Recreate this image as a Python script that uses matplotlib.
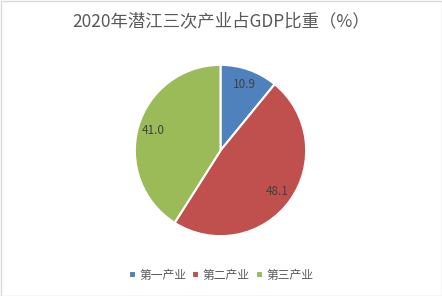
import matplotlib
matplotlib.use("Agg")
import matplotlib.pyplot as plt
from matplotlib.patches import Rectangle

plt.rcParams["font.family"] = ["Noto Sans CJK SC", "DejaVu Sans"]

# data
CATEGORIES = ["第一产业", "第二产业", "第三产业"]
SHARES = [10.9, 48.1, 41.0]
COLORS = ["#4F81BD", "#C0504D", "#9BBB59"]
TITLE = "2020年潜江三次产业占GDP比重（%）"
TEXT = "#595959"

fig = plt.figure(figsize=(4.42, 2.96), dpi=100)
W, H = 442, 296
# pie axes: center (220.5, 150.5), radius ~86.5 px
r = 86.5
ax = fig.add_axes([(220.5 - r) / W, 1 - (150.5 + r) / H, 2 * r / W, 2 * r / H])
wedges, texts = ax.pie(
    SHARES, colors=COLORS, startangle=90, counterclock=False,
    labels=[f"{v:.1f}" for v in SHARES], labeldistance=0.82,
    wedgeprops=dict(edgecolor="white", linewidth=1.5),
    textprops=dict(color="#404040", fontsize=8.5),
)
for t in texts:
    t.set_ha("center")
    t.set_va("center")
ax.set_xlim(-1.01, 1.01)
ax.set_ylim(-1.01, 1.01)
ax.set_aspect("equal")

fig.text(0.5, 1 - 21 / H, TITLE, ha="center", va="center", fontsize=12.5, color=TEXT)

fig.legend(wedges, CATEGORIES, loc="center", bbox_to_anchor=(0.5, 1 - 275 / H),
           ncol=3, frameon=False, fontsize=8.5, labelcolor=TEXT,
           handlelength=0.6, handleheight=0.6, handletextpad=0.3, columnspacing=0.5)

fig.patches.append(Rectangle((0.5 / W, 0.5 / H), 1 - 1 / W, 1 - 1 / H,
                             transform=fig.transFigure, fill=False,
                             edgecolor="#D9D9D9", linewidth=1))

fig.savefig("out.png", dpi=100)
